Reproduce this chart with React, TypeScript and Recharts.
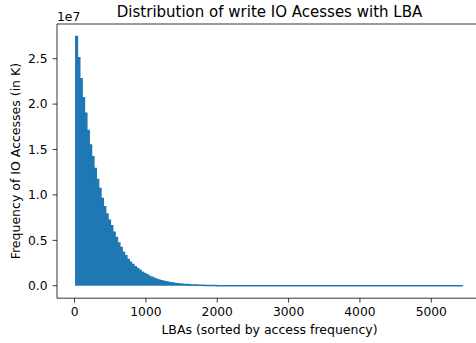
import React from 'react';
import { ComposedChart, Area, XAxis, YAxis, ReferenceLine, Label } from 'recharts';

// step start positions (LBA index) and the peak value of each step, in units of 1e7
const STEP_LBA = [
  7, 40, 73, 106, 139, 172, 205, 238, 271, 304, 337, 370, 403, 436, 469, 502, 535, 568, 601, 634,
  667, 700, 733, 766, 799, 832, 865, 898, 931, 964, 997, 1030, 1063, 1096, 1129, 1162, 1195, 1228,
  1261, 1294, 1327, 1360, 1393, 1426, 1459, 1492, 1525, 1558, 1591, 1624, 1657, 1690, 1723, 1756,
  1789, 1822, 1855, 1888, 1921, 1954, 1987, 2020, 2053,
];
const STEP_FREQ = [
  2.745, 2.51, 2.28, 2.07, 1.9, 1.71, 1.55, 1.42, 1.29, 1.17, 1.07, 0.96, 0.87, 0.79, 0.72, 0.66,
  0.59, 0.53, 0.47, 0.42, 0.37, 0.33, 0.29, 0.26, 0.235, 0.21, 0.19, 0.17, 0.15, 0.135, 0.12, 0.105,
  0.094, 0.083, 0.073, 0.064, 0.056, 0.049, 0.043, 0.038, 0.033, 0.029, 0.025, 0.022, 0.019, 0.017,
  0.015, 0.013, 0.011, 0.0095, 0.0082, 0.007, 0.006, 0.005, 0.0043, 0.0037, 0.003, 0.0025, 0.002,
  0.0017, 0.0014, 0.0012, 0.001,
];
const TAIL_LBA = [2086, 5440];
const TAIL_FREQ = [0.0008, 0.0005];

const X_TICKS = [0, 1000, 2000, 3000, 4000, 5000];
const Y_TICKS = [0, 0.5, 1.0, 1.5, 2.0, 2.5];

const BLUE = '#1f77b4';
const FONT = 'DejaVu Sans, sans-serif';

const data = [
  ...STEP_LBA.map((lba, i) => ({ lba, freq: STEP_FREQ[i] })),
  ...TAIL_LBA.map((lba, i) => ({ lba, freq: TAIL_FREQ[i] })),
];

const tickStyle = { fontSize: 12.3, fill: '#000', fontFamily: FONT };

export default function App() {
  return (
    <div style={{ position: 'absolute', left: 0, top: 0, width: 476, height: 343, overflow: 'hidden', background: '#fff' }}>
      <ComposedChart
        width={490}
        height={343}
        data={data}
        margin={{ top: 24, right: 8, bottom: 0, left: 0 }}
      >
        <XAxis
          dataKey="lba"
          type="number"
          domain={[-246, 5711]}
          ticks={X_TICKS}
          allowDataOverflow
          height={44.8}
          tickSize={4.4}
          tickMargin={4.4}
          tick={tickStyle}
          axisLine={{ stroke: '#000', strokeWidth: 0.8 }}
          tickLine={{ stroke: '#000', strokeWidth: 0.8 }}
        >
          <Label
            value="LBAs (sorted by access frequency)"
            position="insideBottom"
            offset={9.5}
            style={{ fontSize: 12.5, fill: '#000', fontFamily: FONT }}
          />
        </XAxis>
        <YAxis
          type="number"
          domain={[-0.137, 2.882]}
          ticks={Y_TICKS}
          allowDataOverflow
          width={57}
          tickSize={4.4}
          tickMargin={5}
          tick={tickStyle}
          tickFormatter={(v: number) => v.toFixed(1)}
          axisLine={{ stroke: '#000', strokeWidth: 0.8 }}
          tickLine={{ stroke: '#000', strokeWidth: 0.8 }}
        >
          <Label
            value="Frequency of IO Accesses (in K)"
            angle={-90}
            position="insideLeft"
            offset={15.5}
            style={{ fontSize: 12.5, fill: '#000', fontFamily: FONT, textAnchor: 'middle' }}
          />
        </YAxis>
        <ReferenceLine y={2.882} stroke="#000" strokeWidth={0.8} />
        <ReferenceLine x={5711} stroke="#000" strokeWidth={0.8} />
        <Area
          dataKey="freq"
          type="stepAfter"
          baseValue={0}
          stroke={BLUE}
          strokeWidth={1.5}
          fill={BLUE}
          fillOpacity={1}
          dot={false}
          activeDot={false}
          isAnimationActive={false}
        />
      </ComposedChart>
      <svg width={476} height={343} style={{ position: 'absolute', left: 0, top: 0, pointerEvents: 'none' }}>
        <text x={269.5} y={17} textAnchor="middle" fontSize={15} fontFamily={FONT} fill="#000">
          Distribution of write IO Acesses with LBA
        </text>
        <text x={57} y={21} fontSize={12.3} fontFamily={FONT} fill="#000">
          1e7
        </text>
      </svg>
    </div>
  );
}
